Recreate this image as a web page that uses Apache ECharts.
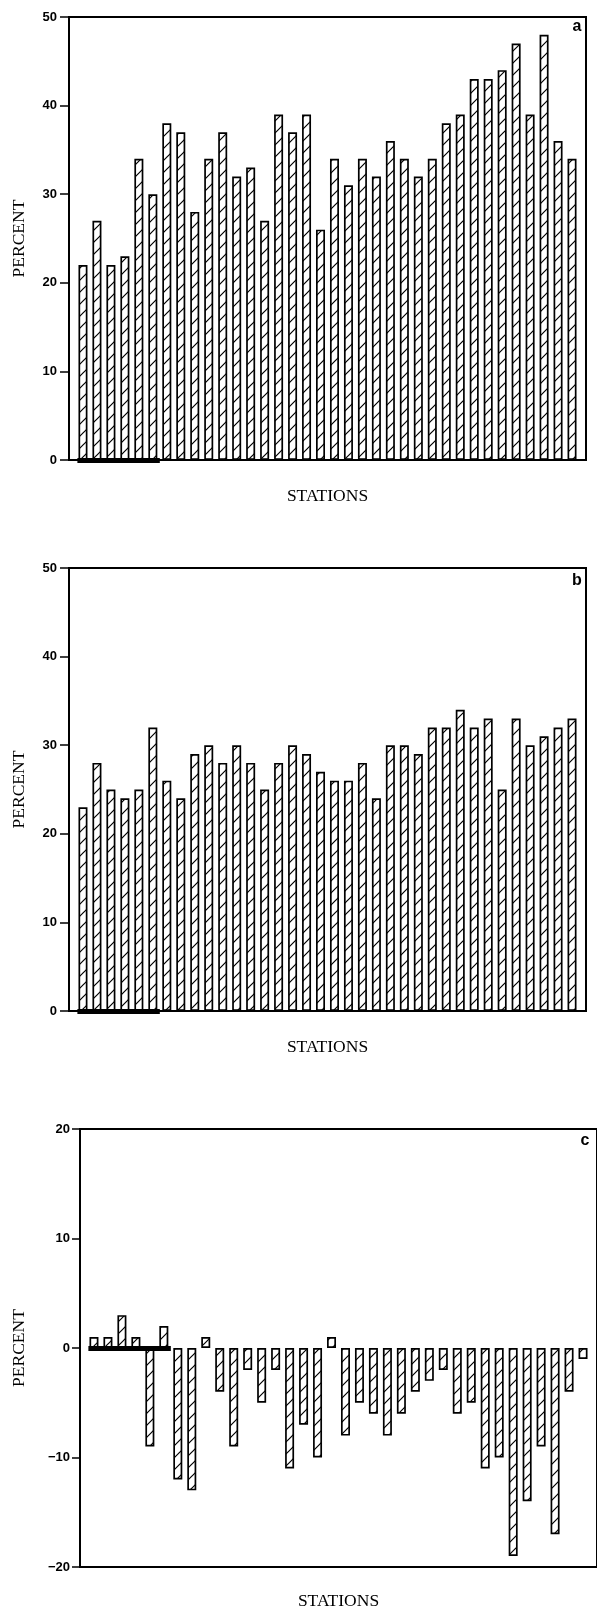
<!DOCTYPE html>
<html>
<head>
<meta charset="utf-8">
<script src="https://cdn.jsdelivr.net/npm/echarts@6.0.0/dist/echarts.min.js"></script>
<style>
  html, body { margin: 0; padding: 0; background: #fff; }
  #main { width: 597px; height: 1611px; }
</style>
</head>
<body>
<div id="main"></div>
<script>
// station numbers along the x axis
var stations = [];
for (var i = 1; i <= 36; i++) stations.push(i);

// panel a, b, c values (percent)
var pctA = [22, 27, 22, 23, 34, 30, 38, 37, 28, 34, 37, 32, 33, 27, 39, 37, 39, 26,
            34, 31, 34, 32, 36, 34, 32, 34, 38, 39, 43, 43, 44, 47, 39, 48, 36, 34];
var pctB = [23, 28, 25, 24, 25, 32, 26, 24, 29, 30, 28, 30, 28, 25, 28, 30, 29, 27,
            26, 26, 28, 24, 30, 30, 29, 32, 32, 34, 32, 33, 25, 33, 30, 31, 32, 33];
var pctC = [1, 1, 3, 1, -9, 2, -12, -13, 1, -4, -9, -2, -5, -2, -11, -7, -10, 1,
            -8, -5, -6, -8, -6, -4, -3, -2, -6, -5, -11, -10, -19, -14, -9, -17, -4, -1];

// first group of stations underlined with the thick black bar
var refStations = [1, 6];

var yTicksAB = [0, 50, 10];   // min, max, step
var yTicksC = [-20, 20, 10];

var dom = document.getElementById("main");
var myChart = echarts.init(dom, null, { renderer: 'canvas' });

// diagonal hatch fill used by every bar
function makeHatch() {
    var s = 12;
    var c = document.createElement('canvas');
    c.width = s;
    c.height = s;
    var ctx = c.getContext('2d');
    ctx.fillStyle = '#fff';
    ctx.fillRect(0, 0, s, s);
    ctx.strokeStyle = '#000';
    ctx.lineWidth = 1.2;
    ctx.beginPath();
    ctx.moveTo(0, s); ctx.lineTo(s, 0);
    ctx.moveTo(-s / 2, s / 2); ctx.lineTo(s / 2, -s / 2);
    ctx.moveTo(s / 2, s * 1.5); ctx.lineTo(s * 1.5, s / 2);
    ctx.stroke();
    return c;
}
var hatch = { image: makeHatch(), repeat: 'repeat' };

function minusFmt(v) {
    return v < 0 ? '\u2212' + Math.abs(v) : String(v);
}

function xAxisFor(idx, gap) {
    return {
        gridIndex: idx,
        type: 'value',
        min: 0,
        max: stations.length + 1,
        name: 'STATIONS',
        nameLocation: 'middle',
        nameGap: gap,
        nameTextStyle: { fontFamily: 'Liberation Serif', fontSize: 17.5, color: '#000' },
        axisLine: { show: true, onZero: false, lineStyle: { color: '#000', width: 2 } },
        axisTick: { show: false },
        axisLabel: { show: false },
        splitLine: { show: false }
    };
}

function yAxisFor(idx, ticks, gap, margin, tickLen) {
    return {
        gridIndex: idx,
        type: 'value',
        min: ticks[0],
        max: ticks[1],
        interval: ticks[2],
        name: 'PERCENT',
        nameLocation: 'middle',
        nameRotate: 90,
        nameGap: gap,
        nameTextStyle: { fontFamily: 'Liberation Serif', fontSize: 17.5, color: '#000' },
        axisLine: { show: true, onZero: false, lineStyle: { color: '#000', width: 2 } },
        axisTick: { show: true, inside: false, length: tickLen, lineStyle: { color: '#000', width: 1.5 } },
        axisLabel: {
            margin: margin, color: '#000', fontFamily: 'Liberation Sans',
            fontWeight: 'bold', fontSize: 13, formatter: minusFmt
        },
        splitLine: { show: false }
    };
}

function barSeries(idx, values) {
    return {
        type: 'bar',
        xAxisIndex: idx,
        yAxisIndex: idx,
        barWidth: 9,
        data: stations.map(function (s, i) { return [s, values[i]]; }),
        itemStyle: { color: hatch, borderColor: '#000', borderWidth: 1.7 },
        markLine: {
            silent: true,
            symbol: ['none', 'none'],
            label: { show: false },
            lineStyle: { color: '#000', width: 5, type: 'solid' },
            data: [[{ coord: [refStations[0] - 0.4, 0] }, { coord: [refStations[1] + 0.5, 0] }]]
        }
    };
}

function panelLetter(txt, x, y) {
    return {
        type: 'text', x: x, y: y,
        style: {
            text: txt, fill: '#000', font: 'bold 16px "Liberation Sans"',
            align: 'center', verticalAlign: 'middle'
        }
    };
}

var gridStyle = { show: true, borderColor: '#000', borderWidth: 2, backgroundColor: 'transparent' };

var option = {
    animation: false,
    backgroundColor: '#fff',
    grid: [
        Object.assign({ left: 69, top: 17, width: 517, height: 443 }, gridStyle),
        Object.assign({ left: 69, top: 568, width: 517, height: 443 }, gridStyle),
        Object.assign({ left: 80, top: 1129, width: 517, height: 439 }, gridStyle)
    ],
    xAxis: [xAxisFor(0, 27), xAxisFor(1, 27), xAxisFor(2, 25)],
    yAxis: [
        yAxisFor(0, yTicksAB, 41, 12, 9),
        yAxisFor(1, yTicksAB, 41, 12, 9),
        yAxisFor(2, yTicksC, 52, 10, 8)
    ],
    series: [barSeries(0, pctA), barSeries(1, pctB), barSeries(2, pctC)],
    graphic: [
        panelLetter('a', 577, 27),
        panelLetter('b', 577, 581),
        panelLetter('c', 585, 1141)
    ]
};

if (option && typeof option === "object") {
    myChart.setOption(option, true);
}
</script>
</body>
</html>
